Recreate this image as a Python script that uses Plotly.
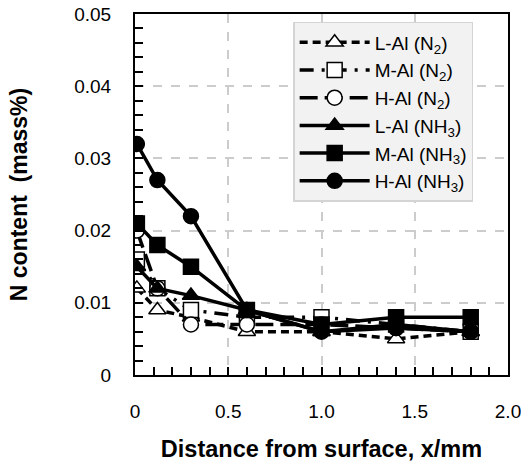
import plotly.graph_objects as go

x = [0.01, 0.12, 0.3, 0.6, 1.0, 1.4, 1.8]
names = ["L-Al (N<sub>2</sub>)", "M-Al (N<sub>2</sub>)", "H-Al (N<sub>2</sub>)",
         "L-Al (NH<sub>3</sub>)", "M-Al (NH<sub>3</sub>)", "H-Al (NH<sub>3</sub>)"]
l_n2 = [0.012, 0.009, 0.008, 0.006, 0.006, 0.005, 0.006]
m_n2 = [0.016, 0.012, 0.009, 0.008, 0.008, 0.007, 0.006]
h_n2 = [0.020, 0.012, 0.007, 0.007, 0.007, 0.0065, 0.006]
l_nh3 = [0.015, 0.012, 0.011, 0.009, 0.006, 0.007, 0.006]
m_nh3 = [0.021, 0.018, 0.015, 0.009, 0.007, 0.008, 0.008]
h_nh3 = [0.032, 0.027, 0.022, 0.009, 0.006, 0.0065, 0.006]

series = [l_n2, m_n2, h_n2, l_nh3, m_nh3, h_nh3]
dashes = ["8px,5px", "14px,8px,3px,8px", "18px,7px", "solid", "solid", "solid"]
symbols = ["triangle-up", "square", "circle", "triangle-up", "square", "circle"]
fills = ["white", "white", "white", "black", "black", "black"]

fig = go.Figure()
for nm, ys, d, s, f in zip(names, series, dashes, symbols, fills):
    fig.add_trace(go.Scatter(
        x=x, y=ys, name=nm, mode="lines+markers",
        line=dict(color="black", width=3.5, dash=d),
        marker=dict(symbol=s, size=15, color=f,
                    line=dict(color="black", width=1.5)),
    ))

font = "Liberation Sans, Arial, sans-serif"
fig.update_layout(
    width=521, height=476,
    margin=dict(l=135, r=13, t=14, b=101),
    paper_bgcolor="white", plot_bgcolor="white",
    font=dict(family=font, size=19, color="black"),
    showlegend=True,
    legend=dict(x=0.424, y=0.978, xanchor="left", yanchor="top",
                bgcolor="#f2f2f2", bordercolor="#d4d4d4", borderwidth=1.5,
                font=dict(size=19), tracegroupgap=0, itemwidth=70),
    xaxis=dict(range=[0, 2.0], tickvals=[0, 0.5, 1.0, 1.5, 2.0],
               ticktext=["0", "0.5", "1.0", "1.5", "2.0"], automargin=False,
               ticklabeloverflow="allow",
               showgrid=True, gridcolor="#cccccc", griddash="dash", gridwidth=1.5,
               showline=True, linecolor="black", linewidth=2, mirror=True,
               ticks="inside", ticklen=8, tickcolor="black", tickwidth=1.5,
               minor=dict(dtick=0.1, ticks="inside", ticklen=8, tickcolor="black",
                          tickwidth=1.5, showgrid=False),
               ticklabelstandoff=18, zeroline=False,
               title=dict(text="<b>Distance from surface, x/mm</b>",
                          font=dict(size=23.5), standoff=20)),
    yaxis=dict(range=[0, 0.05], tickvals=[0, 0.01, 0.02, 0.03, 0.04, 0.05],
               ticktext=["0", "0.01", "0.02", "0.03", "0.04", "0.05"], automargin=False,
               ticklabeloverflow="allow",
               showgrid=True, gridcolor="#cccccc", griddash="dash", gridwidth=1.5,
               showline=True, linecolor="black", linewidth=2, mirror=True,
               ticks="inside", ticklen=8, tickcolor="black", tickwidth=1.5,
               minor=dict(dtick=0.002, ticks="inside", ticklen=8, tickcolor="black",
                          tickwidth=1.5, showgrid=False),
               ticklabelstandoff=18, zeroline=False,
               title=dict(text="<b>N content  (mass%)</b>",
                          font=dict(size=23), standoff=40)),
)
fig.write_html("out.html", config={"displayModeBar": False},
               post_script="document.body.style.margin='0';document.body.style.overflow='hidden';")
